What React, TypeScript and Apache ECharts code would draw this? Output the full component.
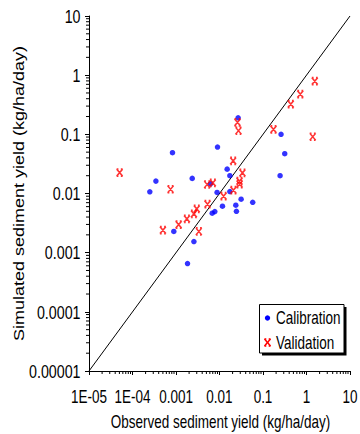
import React, { useEffect, useRef } from "react";
import * as echarts from "echarts";

const xTickLabels = ["1E-05", "1E-04", "0.001", "0.01", "0.1", "1", "10"];
const yTickLabels = ["0.00001", "0.0001", "0.001", "0.01", "0.1", "1", "10"];
const xTitle = "Observed sediment yield (kg/ha/day)";
const yTitle = "Simulated sediment yield (kg/ha/day)";
const seriesNames = ["Calibration", "Validation"];

const calibrationX = [0.0268, 0.26, 0.316, 0.247, 0.00083, 0.009, 0.000345, 0.00025, 0.00236, 0.015, 0.0173, 0.0062, 0.0088, 0.0173, 0.0314, 0.058, 0.0237, 0.0245, 0.0117, 0.0078, 0.0068, 0.00089, 0.00258, 0.00184];
const calibrationY = [0.19, 0.1, 0.047, 0.02, 0.049, 0.061, 0.0162, 0.0107, 0.018, 0.0258, 0.02, 0.0146, 0.0104, 0.0108, 0.008, 0.0071, 0.00635, 0.005, 0.0061, 0.00495, 0.00465, 0.00228, 0.00154, 0.000655];

const validationX = [1.55, 0.72, 0.435, 0.174, 1.39, 0.0259, 0.0273, 0.0000506, 0.0206, 0.0337, 0.0288, 0.029, 0.0209, 0.0052, 0.00703, 0.00075, 0.0124, 0.0053, 0.003, 0.00258, 0.00178, 0.00115, 0.0005, 0.00335];
const validationY = [0.79, 0.48, 0.325, 0.121, 0.091, 0.159, 0.115, 0.0226, 0.0357, 0.0224, 0.0162, 0.0144, 0.0114, 0.0142, 0.0151, 0.0118, 0.009, 0.0066, 0.0055, 0.00453, 0.00373, 0.00299, 0.0024, 0.00228];

const oneToOneX = [0.00001, 10];
const oneToOneY = [0.00001, 10];

const AXIS_MIN = 0.00001;
const AXIS_MAX = 10;

const minorValues: number[] = [];
for (let k = -5; k < 1; k++) {
  for (let m = 2; m <= 9; m++) minorValues.push(m * Math.pow(10, k));
}

const FONT = "'Liberation Sans', Arial, sans-serif";
const SQUEEZE = 0.75;
const X_MARK = "path://M0,0L10,10M10,0L0,10M0,0L3,0M7,0L10,0M0,10L3,10M7,10L10,10";

const GRID = { left: 89, right: 10, top: 16, bottom: 63 };

function txt(id: string, text: string, x: number, y: number, size: number, align: string, extra: any = {}) {
  return {
    id,
    type: "text",
    x,
    y,
    z: 30,
    silent: true,
    scaleX: SQUEEZE,
    ...extra,
    style: {
      text,
      fontSize: size,
      fontFamily: FONT,
      fill: "#000",
      align,
      verticalAlign: "middle",
      textAlign: align,
      textVerticalAlign: "middle",
    },
  };
}

export default function App() {
  const ref = useRef<HTMLDivElement>(null);
  useEffect(() => {
    if (!ref.current) return;
    const chart = echarts.init(ref.current, null, { renderer: "svg" });
    const zip = (a: number[], b: number[]) => a.map((v, i) => [v, b[i]]);
    const axisCommon = {
      type: "log",
      logBase: 10,
      min: AXIS_MIN,
      max: AXIS_MAX,
      interval: 1,
      splitNumber: 6,
      axisLine: { show: true, lineStyle: { color: "#000", width: 1 } },
      axisTick: { show: true, inside: false, length: 4, lineStyle: { color: "#000" } },
      splitLine: { show: false },
      axisLabel: { show: false },
    };
    chart.setOption({
      animation: false,
      backgroundColor: "#fff",
      textStyle: { fontFamily: FONT, color: "#000" },
      grid: { ...GRID, containLabel: false, outerBoundsMode: "none" },
      xAxis: { ...axisCommon },
      yAxis: { ...axisCommon },
      series: [
        {
          name: "1:1",
          type: "line",
          data: zip(oneToOneX, oneToOneY),
          showSymbol: false,
          symbol: "none",
          lineStyle: { color: "#000", width: 1 },
          silent: true,
          z: 1,
        },
        {
          name: seriesNames[0],
          type: "scatter",
          data: zip(calibrationX, calibrationY),
          symbol: "circle",
          symbolSize: 5.5,
          itemStyle: { color: "#0000ff" },
          z: 3,
        },
        {
          name: seriesNames[1],
          type: "scatter",
          data: zip(validationX, validationY),
          symbol: X_MARK,
          symbolSize: [6, 7],
          itemStyle: { color: "#ff0000", borderColor: "#ff0000", borderWidth: 1.6 },
          z: 4,
        },
        {
          name: "xMinorTicks",
          type: "custom",
          silent: true,
          data: minorValues.map((v) => [v, AXIS_MIN]),
          renderItem: (_p: any, api: any) => {
            const pt = api.coord([api.value(0), api.value(1)]);
            return {
              type: "line",
              shape: { x1: pt[0], y1: pt[1], x2: pt[0], y2: pt[1] + 3 },
              style: { stroke: "#000", lineWidth: 1 },
            };
          },
        },
        {
          name: "yMinorTicks",
          type: "custom",
          silent: true,
          data: minorValues.map((v) => [AXIS_MIN, v]),
          renderItem: (_p: any, api: any) => {
            const pt = api.coord([api.value(0), api.value(1)]);
            return {
              type: "line",
              shape: { x1: pt[0] - 3, y1: pt[1], x2: pt[0], y2: pt[1] },
              style: { stroke: "#000", lineWidth: 1 },
            };
          },
        },
      ],
    });

    // Texts positioned from the axes' own scales
    const toPx = (v: [number, number]) => chart.convertToPixel({ gridIndex: 0 }, v) as number[];
    const origin = toPx([AXIS_MIN, AXIS_MIN]);
    const corner = toPx([AXIS_MAX, AXIS_MAX]);
    const graphics: any[] = [];
    xTickLabels.forEach((lab, i) => {
      const p = toPx([Math.pow(10, i - 5), AXIS_MIN]);
      graphics.push(txt("xl" + i, lab, p[0], p[1] + 26, 18, "center"));
    });
    yTickLabels.forEach((lab, i) => {
      const p = toPx([AXIS_MIN, Math.pow(10, i - 5)]);
      graphics.push(txt("yl" + i, lab, p[0] - 8.5, p[1] + 0.5, 19, "right"));
    });
    graphics.push(txt("xt", xTitle, (origin[0] + corner[0]) / 2 + 1, origin[1] + 50.5, 18, "center"));
    graphics.push(
      txt("yt", yTitle, origin[0] - 70, (origin[1] + corner[1]) / 2, 18, "center", {
        rotation: Math.PI / 2,
        scaleX: 1,
        scaleY: SQUEEZE + 0.05,
      })
    );
    // Legend box
    const lx = 259.5;
    const ly = 304.5;
    graphics.push({ id: "lgShadow", type: "rect", z: 20, silent: true, shape: { x: lx + 2.5, y: ly + 2.5, width: 84.5, height: 48.5 }, style: { fill: "#000" } });
    graphics.push({ id: "lgBox", type: "rect", z: 21, silent: true, shape: { x: lx, y: ly, width: 84.5, height: 48.5 }, style: { fill: "#fff", stroke: "#000", lineWidth: 1 } });
    graphics.push({ id: "lgDot", type: "circle", z: 22, silent: true, shape: { cx: lx + 8, cy: ly + 13.5, r: 2.7 }, style: { fill: "#0000ff" } });
    const mx = lx + 8;
    const my = ly + 38;
    const segs = [
      [mx - 3, my - 3.5, mx + 3, my + 3.5],
      [mx + 3, my - 3.5, mx - 3, my + 3.5],
      [mx - 3, my - 3.5, mx - 1.2, my - 3.5],
      [mx + 1.2, my - 3.5, mx + 3, my - 3.5],
      [mx - 3, my + 3.5, mx - 1.2, my + 3.5],
      [mx + 1.2, my + 3.5, mx + 3, my + 3.5],
    ];
    segs.forEach((s, i) =>
      graphics.push({ id: "lgX" + i, type: "line", z: 22, silent: true, shape: { x1: s[0], y1: s[1], x2: s[2], y2: s[3] }, style: { stroke: "#ff0000", lineWidth: 1.5 } })
    );
    graphics.push(txt("lg0", seriesNames[0], lx + 16.5, ly + 13.5, 18, "left"));
    graphics.push(txt("lg1", seriesNames[1], lx + 16.5, ly + 38.5, 18, "left"));
    chart.setOption({ graphic: graphics });

    return () => chart.dispose();
  }, []);
  return <div ref={ref} style={{ position: "absolute", left: 0, top: 0, width: 360, height: 434 }} />;
}
